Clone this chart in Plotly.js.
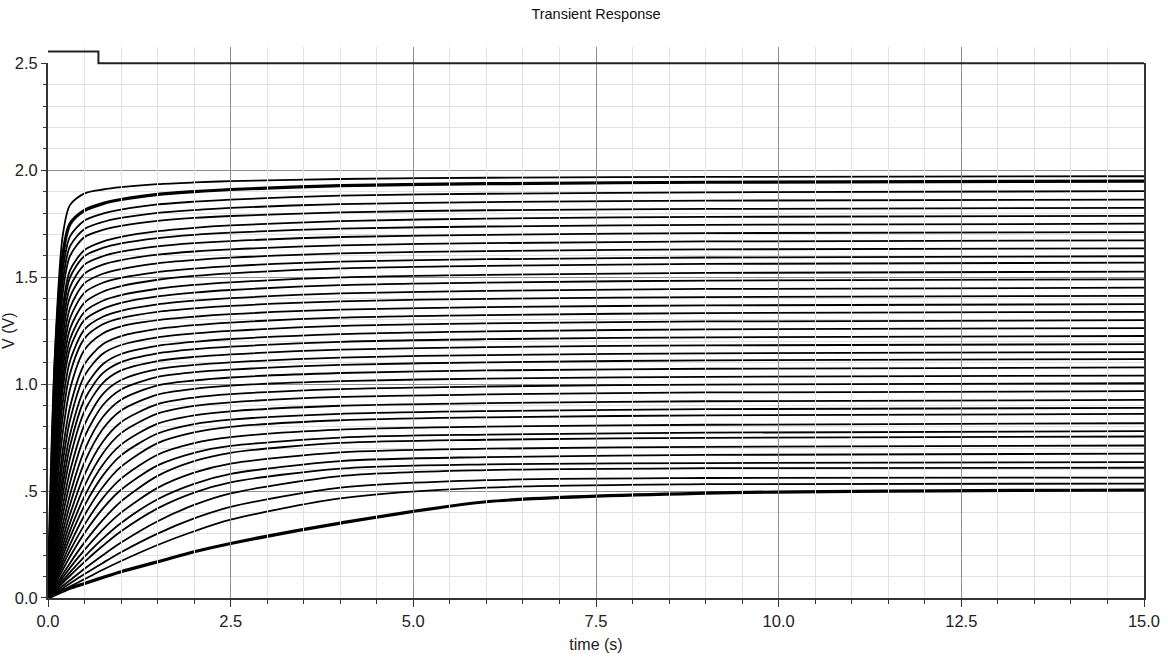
<!DOCTYPE html>
<html>
<head>
<meta charset="utf-8">
<script src="https://cdn.plot.ly/plotly-3.0.1.min.js"></script>
<style>
html,body{margin:0;padding:0;background:#fff;}
#chart{width:1168px;height:667px;}
</style>
</head>
<body>
<div id="chart"></div>
<script>
// time samples (s)
const time = [0, 0.05, 0.1, 0.2, 0.3, 0.5, 0.75, 1, 1.5, 2, 2.5, 4, 6, 9, 15];

// V (V) for each curve, top to bottom
const v01 = [0, .668, 1.183, 1.691, 1.837, 1.892, 1.910, 1.921, 1.935, 1.943, 1.949, 1.959, 1.965, 1.969, 1.972];
const v02 = [0, .621, 1.105, 1.596, 1.748, 1.812, 1.844, 1.863, 1.887, 1.900, 1.910, 1.928, 1.937, 1.944, 1.949];
const v03 = [0, .576, 1.034, 1.526, 1.690, 1.765, 1.797, 1.816, 1.840, 1.853, 1.863, 1.881, 1.890, 1.897, 1.902];
const v04 = [0, .545, .983, 1.473, 1.644, 1.725, 1.758, 1.777, 1.801, 1.814, 1.824, 1.842, 1.851, 1.858, 1.863];
const v05 = [0, .511, .933, 1.420, 1.598, 1.688, 1.721, 1.740, 1.763, 1.777, 1.786, 1.803, 1.813, 1.819, 1.824];
const v06 = [0, .484, .883, 1.352, 1.531, 1.627, 1.666, 1.688, 1.715, 1.731, 1.742, 1.762, 1.774, 1.782, 1.787];
const v07 = [0, .460, .845, 1.311, 1.498, 1.599, 1.637, 1.658, 1.683, 1.698, 1.708, 1.727, 1.737, 1.745, 1.750];
const v08 = [0, .437, .806, 1.262, 1.452, 1.559, 1.598, 1.619, 1.644, 1.659, 1.669, 1.688, 1.698, 1.706, 1.711];
const v09 = [0, .414, .765, 1.212, 1.406, 1.517, 1.559, 1.580, 1.605, 1.620, 1.630, 1.649, 1.659, 1.667, 1.672];
const v10 = [0, .389, .724, 1.158, 1.355, 1.472, 1.516, 1.538, 1.565, 1.580, 1.591, 1.611, 1.622, 1.630, 1.635];
const v11 = [0, .371, .691, 1.111, 1.307, 1.428, 1.474, 1.497, 1.524, 1.540, 1.552, 1.573, 1.584, 1.592, 1.598];
const v12 = [0, .350, .656, 1.064, 1.257, 1.381, 1.432, 1.458, 1.488, 1.506, 1.518, 1.541, 1.553, 1.562, 1.568];
const v13 = [0, .332, .623, 1.016, 1.209, 1.338, 1.390, 1.416, 1.446, 1.464, 1.476, 1.499, 1.511, 1.520, 1.526];
const v14 = [0, .312, .589, .972, 1.165, 1.300, 1.352, 1.380, 1.410, 1.428, 1.440, 1.463, 1.475, 1.484, 1.490];
const v15 = [0, .285, .539, .908, 1.107, 1.256, 1.315, 1.343, 1.373, 1.390, 1.402, 1.424, 1.436, 1.445, 1.451];
const v16 = [0, .255, .488, .841, 1.047, 1.214, 1.280, 1.309, 1.338, 1.354, 1.366, 1.387, 1.399, 1.407, 1.413];
const v17 = [0, .227, .436, .767, .975, 1.161, 1.237, 1.270, 1.299, 1.315, 1.327, 1.348, 1.360, 1.368, 1.374];
const v18 = [0, .198, .383, .686, .891, 1.094, 1.186, 1.224, 1.258, 1.276, 1.288, 1.311, 1.323, 1.332, 1.338];
const v19 = [0, .178, .346, .629, .829, 1.040, 1.142, 1.183, 1.219, 1.237, 1.249, 1.272, 1.284, 1.293, 1.299];
const v20 = [0, .158, .310, .570, .762, .979, 1.093, 1.141, 1.179, 1.198, 1.211, 1.234, 1.247, 1.256, 1.262];
const v21 = [0, .144, .282, .523, .708, .928, 1.051, 1.103, 1.144, 1.163, 1.175, 1.198, 1.210, 1.219, 1.225];
const v22 = [0, .129, .254, .476, .652, .874, 1.005, 1.064, 1.108, 1.127, 1.139, 1.161, 1.173, 1.181, 1.187];
const v23 = [0, .114, .226, .426, .591, .811, .953, 1.019, 1.070, 1.090, 1.102, 1.124, 1.136, 1.144, 1.150];
const v24 = [0, .102, .201, .384, .537, .753, .901, .975, 1.034, 1.056, 1.068, 1.090, 1.102, 1.111, 1.117];
const v25 = [0, .090, .178, .341, .482, .691, .846, .927, .994, 1.017, 1.031, 1.052, 1.064, 1.072, 1.078];
const v26 = [0, .080, .158, .305, .435, .634, .790, .877, .951, .978, .993, 1.014, 1.026, 1.034, 1.040];
const v27 = [0, .071, .140, .272, .390, .577, .731, .822, .906, .937, .953, .977, .989, .998, 1.004];
const v28 = [0, .063, .125, .243, .350, .524, .676, .771, .862, .898, .915, .940, .952, .961, .967];
const v29 = [0, .056, .111, .217, .314, .476, .623, .717, .815, .854, .873, .899, .911, .920, .926];
const v30 = [0, .050, .099, .194, .282, .432, .572, .667, .769, .813, .834, .861, .874, .883, .889];
const v31 = [0, .044, .087, .171, .250, .387, .519, .614, .724, .774, .800, .831, .845, .854, .861];
const v32 = [0, .039, .076, .151, .220, .343, .467, .558, .670, .724, .752, .787, .801, .810, .817];
const v33 = [0, .034, .067, .131, .193, .304, .418, .506, .620, .679, .711, .750, .764, .773, .780];
const v34 = [0, .028, .056, .110, .163, .260, .365, .452, .571, .640, .679, .725, .740, .749, .755];
const v35 = [0, .024, .048, .095, .141, .225, .320, .399, .515, .586, .628, .681, .698, .707, .713];
const v36 = [0, .021, .041, .081, .120, .194, .278, .351, .462, .534, .580, .640, .659, .669, .675];
const v37 = [0, .018, .035, .070, .104, .169, .244, .312, .419, .493, .541, .605, .625, .631, .635];
const v38 = [0, .014, .028, .056, .083, .137, .200, .259, .359, .435, .489, .570, .598, .607, .609];
const v39 = [0, .011, .023, .045, .068, .112, .164, .214, .301, .372, .426, .516, .551, .561, .563];
const v40 = [0, .009, .018, .036, .054, .088, .132, .173, .248, .312, .366, .466, .516, .532, .535];
const v41 = [0, .008, .016, .031, .046, .068, .096, .123, .169, .216, .255, .350, .450, .490, .505];

// thick (highlighted) curves
const thickCurves = ['v02', 'v41'];

// step signal drawn along the top
const stepTime = [0, 0.69, 0.69, 15];
const stepV = [2.555, 2.555, 2.5, 2.5];

// axis tick labels
const yTickVals = [0, 0.5, 1, 1.5, 2, 2.5];
const yTickText = ['0.0', '.5', '1.0', '1.5', '2.0', '2.5'];
const xTickVals = [0, 2.5, 5, 7.5, 10, 12.5, 15];
const xTickText = ['0.0', '2.5', '5.0', '7.5', '10.0', '12.5', '15.0'];

const curves = {v01, v02, v03, v04, v05, v06, v07, v08, v09, v10, v11, v12, v13, v14, v15, v16, v17, v18, v19, v20,
  v21, v22, v23, v24, v25, v26, v27, v28, v29, v30, v31, v32, v33, v34, v35, v36, v37, v38, v39, v40, v41};

const FONT = 'Liberation Sans, Arial, sans-serif';

const traces = Object.keys(curves).map(name => ({
  x: time,
  y: curves[name],
  type: 'scatter',
  mode: 'lines',
  xaxis: 'x',
  yaxis: 'y',
  hoverinfo: 'skip',
  line: {color: '#000', width: thickCurves.includes(name) ? 3.2 : 1.8, shape: 'spline', smoothing: 0.8}
}));

traces.push({
  x: stepTime, y: stepV, type: 'scatter', mode: 'lines', xaxis: 'x', yaxis: 'y2',
  hoverinfo: 'skip', line: {color: '#222', width: 2}
});

const yTop = 0.9704;
const layout = {
  width: 1168, height: 667,
  margin: {l: 48, r: 24, t: 47, b: 69},
  paper_bgcolor: '#fff',
  plot_bgcolor: 'rgba(0,0,0,0)',
  showlegend: false,
  title: {text: 'Transient Response', font: {family: FONT, size: 14.5, color: '#111'},
          x: 0.5, xref: 'paper', y: 1 - 14 / 667, yref: 'container', yanchor: 'middle'},
  xaxis: {
    range: [0, 15], tickvals: xTickVals, ticktext: xTickText,
    ticks: 'outside', ticklen: 7, tickcolor: '#333', tickwidth: 1,
    showline: true, linecolor: '#333', linewidth: 2,
    showgrid: true, gridcolor: '#8f8f8f', gridwidth: 1, zeroline: false,
    minor: {dtick: 0.5, tick0: 0, ticks: 'outside', ticklen: 4, tickcolor: '#333', showgrid: true, gridcolor: '#e2e2e2', gridwidth: 1},
    tickfont: {family: FONT, size: 16.5, color: '#222'},
    title: {text: 'time (s)', font: {family: FONT, size: 16, color: '#222'}, standoff: 10}
  },
  yaxis: {
    domain: [0, yTop], range: [0, 2.5], tickvals: yTickVals, ticktext: yTickText,
    ticks: 'outside', ticklen: 5, tickcolor: '#333', tickwidth: 1,
    showline: true, linecolor: '#333', linewidth: 2, mirror: true,
    showgrid: true, gridcolor: '#8f8f8f', gridwidth: 1, zeroline: false,
    minor: {dtick: 0.1, tick0: 0, ticks: 'outside', ticklen: 3, tickcolor: '#333', showgrid: true, gridcolor: '#e2e2e2', gridwidth: 1},
    tickfont: {family: FONT, size: 16.5, color: '#222'},
    title: {text: 'V (V)', font: {family: FONT, size: 16, color: '#222'}, standoff: 6}
  },
  yaxis2: {domain: [0, 1], range: [0, 2.5 / yTop], anchor: 'x', visible: false, showgrid: false, zeroline: false}
};

Plotly.newPlot('chart', traces, layout, {staticPlot: true, displayModeBar: false});
</script>
</body>
</html>
